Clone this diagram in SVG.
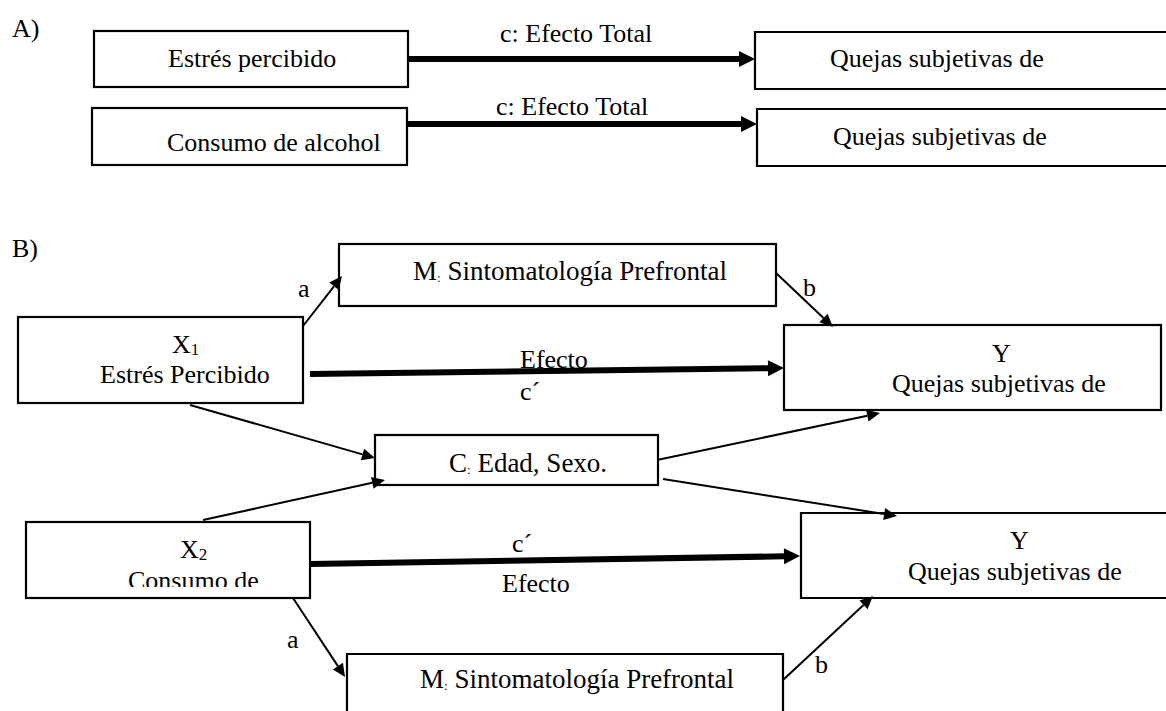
<svg xmlns="http://www.w3.org/2000/svg" width="1166" height="711" viewBox="0 0 1166 711">
<style>
text{font-family:"Liberation Serif","Times New Roman","DejaVu Serif",serif;font-size:26px;fill:#000}
.big{font-size:27px}
.box{fill:#fff;stroke:#000;stroke-width:2.2}
.open{fill:#fff;stroke:#000;stroke-width:2.2}
.thin{stroke:#000;stroke-width:2;fill:none;marker-end:url(#ah)}
.thick{stroke:#000;stroke-width:6;fill:none;marker-end:url(#ahb)}
.sub{font-size:17px}
.col{font-size:13px}
</style>
<defs>
<marker id="ah" markerUnits="userSpaceOnUse" markerWidth="14" markerHeight="12" refX="0" refY="6" orient="auto" overflow="visible"><path d="M0,0 L13,6 L0,12 z" fill="#000"/></marker>
<marker id="ahb" markerUnits="userSpaceOnUse" markerWidth="16" markerHeight="16" refX="0" refY="8" orient="auto" overflow="visible"><path d="M0,0 L16,8 L0,16 z" fill="#000"/></marker>
<clipPath id="clipX2"><rect x="26" y="522" width="284" height="65"/></clipPath>
</defs>
<g font-family="Liberation Serif, Times New Roman, serif" font-size="26">
<text x="12" y="37">A)</text>
<text x="12" y="257">B)</text>
<g id="nodeA1">
<rect class="box" x="94" y="31" width="314" height="56"/>
<text x="168" y="67">Estrés percibido</text>
</g>
<g id="nodeA2">
<rect class="box" x="92" y="108" width="315" height="57"/>
<text x="167" y="151">Consumo de alcohol</text>
</g>
<g id="nodeA3">
<path class="open" d="M1170,32 H755 V89 H1170"/>
<text x="830" y="67">Quejas subjetivas de</text>
</g>
<g id="nodeA4">
<path class="open" d="M1170,109 H757 V166 H1170"/>
<text x="833" y="145">Quejas subjetivas de</text>
</g>
<g id="nodeM1">
<rect class="box" x="339" y="244" width="437" height="62"/>
<text class="big" x="413" y="280">M<tspan class="col" dy="2">:</tspan><tspan dy="-2"> Sintomatología Prefrontal</tspan></text>
</g>
<g id="nodeX1">
<rect class="box" x="18" y="317" width="285" height="86"/>
<text x="172" y="353">X<tspan class="sub" dy="2">1</tspan></text>
<text x="100" y="383">Estrés Percibido</text>
</g>
<g id="nodeY1">
<rect class="box" x="784" y="325" width="377" height="85"/>
<text x="992" y="362">Y</text>
<text x="892" y="392">Quejas subjetivas de</text>
</g>
<g id="nodeC">
<rect class="box" x="375" y="435" width="283" height="50"/>
<text class="big" x="449" y="472">C<tspan class="col" dy="2">:</tspan><tspan dy="-2"> Edad, Sexo.</tspan></text>
</g>
<g id="nodeX2">
<rect class="box" x="26" y="522" width="284" height="76"/>
<text x="180" y="558">X<tspan class="sub" dy="2">2</tspan></text>
<text x="128" y="589" clip-path="url(#clipX2)">Consumo de</text>
</g>
<g id="nodeY2">
<path class="open" d="M1170,513 H801 V598 H1170"/>
<text x="1010" y="549">Y</text>
<text x="908" y="580">Quejas subjetivas de</text>
</g>
<g id="nodeM2">
<path class="open" d="M347,715 V654 H783 V715"/>
<text class="big" x="420" y="688">M<tspan class="col" dy="2">:</tspan><tspan dy="-2"> Sintomatología Prefrontal</tspan></text>
</g>
<g id="connectors">
<text x="500" y="42">c: Efecto Total</text>
<text x="496" y="115">c: Efecto Total</text>
<text x="298" y="297">a</text>
<text x="803" y="296">b</text>
<text x="520" y="368">Efecto</text>
<text x="520" y="400">c´</text>
<text x="512" y="552">c´</text>
<text x="502" y="592">Efecto</text>
<text x="287" y="648">a</text>
<text x="815" y="673">b</text>
<line class="thick" x1="408" y1="59" x2="739" y2="59"/>
<line class="thick" x1="407" y1="124" x2="741" y2="124"/>
<line class="thick" x1="310" y1="374" x2="768" y2="368.2"/>
<line class="thick" x1="310" y1="564" x2="784" y2="556.3"/>
<line class="thin" x1="303" y1="326" x2="334" y2="286.3"/>
<line class="thin" x1="776" y1="273" x2="823.5" y2="318"/>
<line class="thin" x1="190" y1="405" x2="362.5" y2="454.4"/>
<line class="thin" x1="203" y1="520" x2="372.3" y2="482.8"/>
<line class="thin" x1="657" y1="460" x2="867.3" y2="415.7"/>
<line class="thin" x1="663" y1="479" x2="884.2" y2="514"/>
<line class="thin" x1="293" y1="598" x2="337.9" y2="666.1"/>
<line class="thin" x1="783" y1="680" x2="863.5" y2="604.9"/>
</g>
</g>
</svg>
